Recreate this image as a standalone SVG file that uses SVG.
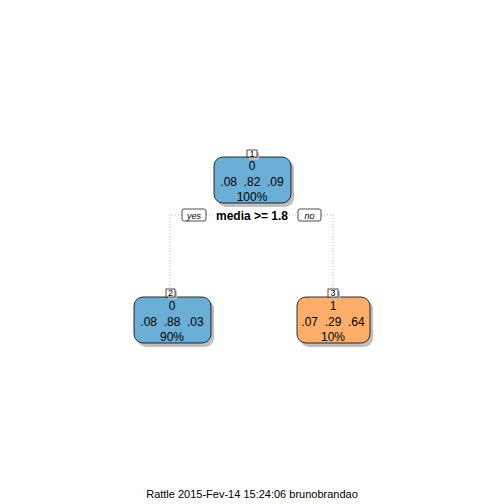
<svg xmlns="http://www.w3.org/2000/svg" width="504" height="504" viewBox="0 0 504 504">
<style>
text{font-family:"Liberation Sans",Arial,sans-serif;font-size:12px;text-anchor:middle;fill:#000;white-space:pre}
.shadow{fill:#bfbfbf}
.nb{stroke:#000;stroke-width:0.8}
.blue{fill:#6baed6}
.orange{fill:#fdae6b}
.lbl{fill:#fff;stroke:#000;stroke-width:0.7}
.conn{fill:none;stroke:#999;stroke-width:0.7;stroke-dasharray:1,2}
.small{font-size:9px}
.it{font-style:italic;font-size:9px}
.foot{font-size:11px}
</style>
<rect width="504" height="504" fill="#fff"/>
<g id="connectors">
<path class="conn" d="M182,215 H170 V289"/>
<path class="conn" d="M206,215 H215"/>
<path class="conn" d="M289,215 H298"/>
<path class="conn" d="M321,215 H333 V289"/>
</g>
<g id="node1">
<rect class="shadow" x="217" y="160" width="77" height="47" rx="9"/>
<rect class="nb blue" x="214" y="157" width="77" height="46" rx="9"/>
<rect class="shadow" x="249" y="152" width="10" height="8"/>
<rect class="lbl" x="247" y="150" width="10" height="7"/>
<text class="small" x="252" y="157">1</text>
<text x="252" y="170">0</text>
<text x="252" y="186" xml:space="preserve">.08  .82  .09</text>
<text x="252" y="201">100%</text>
</g>
<g id="split">
<rect class="lbl" x="182" y="209" width="24" height="12" rx="2"/>
<text class="it" x="194" y="218.5">yes</text>
<text x="252" y="219.5" font-weight="bold">media &gt;= 1.8</text>
<rect class="lbl" x="298" y="209" width="23" height="12" rx="2"/>
<text class="it" x="309.5" y="218.5">no</text>
</g>
<g id="node2">
<rect class="shadow" x="137" y="300" width="77" height="47" rx="9"/>
<rect class="nb blue" x="134" y="297" width="77" height="46" rx="9"/>
<rect class="shadow" x="168" y="291" width="9" height="8"/>
<rect class="lbl" x="166" y="289" width="9" height="8"/>
<text class="small" x="170.5" y="296">2</text>
<text x="172" y="310">0</text>
<text x="172" y="326" xml:space="preserve">.08  .88  .03</text>
<text x="172" y="341">90%</text>
</g>
<g id="node3">
<rect class="shadow" x="300" y="300" width="73" height="47" rx="9"/>
<rect class="nb orange" x="297" y="297" width="73" height="46" rx="9"/>
<rect class="shadow" x="330" y="291" width="10" height="8"/>
<rect class="lbl" x="328" y="289" width="10" height="8"/>
<text class="small" x="333" y="296">3</text>
<text x="333" y="310">1</text>
<text x="333" y="326" xml:space="preserve">.07  .29  .64</text>
<text x="333" y="341">10%</text>
</g>
<text class="foot" x="252" y="498">Rattle 2015-Fev-14 15:24:06 brunobrandao</text>
</svg>
